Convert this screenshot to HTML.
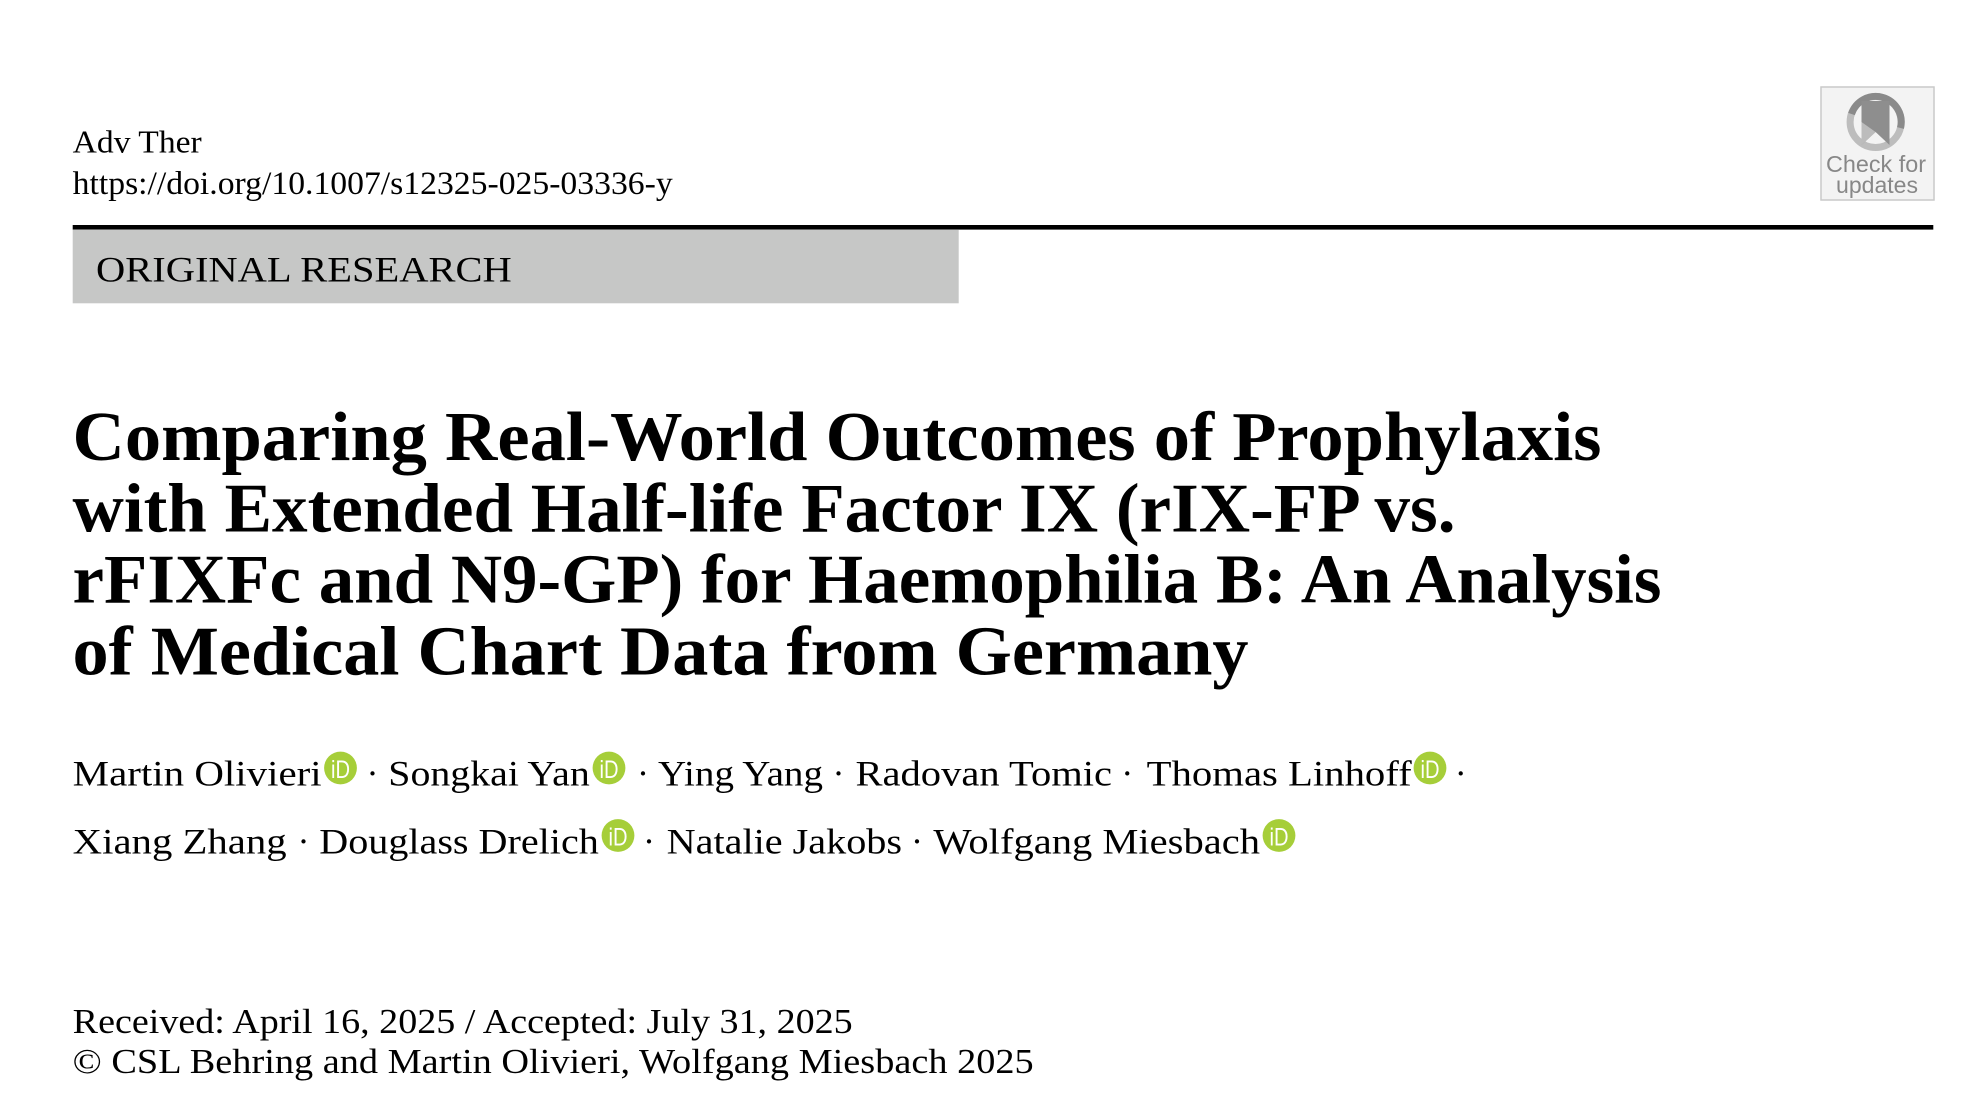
<!DOCTYPE html>
<html>
<head>
<meta charset="utf-8">
<style>
  html, body { margin:0; padding:0; background:#ffffff; }
  body { width:1972px; height:1106px; overflow:hidden; }
  svg { display:block; }
  .serif { font-family: "Liberation Serif", "Times New Roman", serif; fill:#000; }
  .sans { font-family: "Liberation Sans", Arial, sans-serif; }
</style>
</head>
<body>
<svg width="1972" height="1106" viewBox="0 0 1972 1106" xmlns="http://www.w3.org/2000/svg">
  <rect x="0" y="0" width="1972" height="1106" fill="#ffffff"/>

  <!-- Journal header -->
  <text class="serif" x="72.7" y="152.7" font-size="32" textLength="129" lengthAdjust="spacingAndGlyphs">Adv Ther</text>
  <text class="serif" x="72.7" y="194" font-size="33" textLength="600" lengthAdjust="spacingAndGlyphs">https://doi.org/10.1007/s12325-025-03336-y</text>

  <!-- Check for updates badge -->
  <rect x="1821" y="87" width="113" height="113" fill="#f3f3f3" stroke="#c9c9c9" stroke-width="1.5"/>
  <circle cx="1875.6" cy="122" r="25.5" fill="none" stroke="#bdbdbd" stroke-width="7"/>
  <path d="M 1851.5 114 A 25.5 25.5 0 0 1 1900.5 128" fill="none" stroke="#8a8a8a" stroke-width="7"/>
  <polygon points="1861.5,101 1889.5,101 1889.5,145 1875.6,132 1861.5,145" fill="#8e8e8e"/>
  <polygon points="1861.5,122 1875.6,132 1861.5,145" fill="#bcbcbc"/>
  <text class="sans" x="1876" y="172" font-size="23.5" fill="#878787" text-anchor="middle" textLength="100" lengthAdjust="spacingAndGlyphs">Check for</text>
  <text class="sans" x="1877" y="193" font-size="23.5" fill="#878787" text-anchor="middle" textLength="82" lengthAdjust="spacingAndGlyphs">updates</text>

  <!-- Rule and section label -->
  <rect x="72.7" y="225" width="1860.6" height="4.6" fill="#000"/>
  <rect x="72.7" y="229.6" width="886" height="73.7" fill="#c6c7c6"/>
  <text class="serif" x="96" y="281.5" font-size="36" textLength="415.7" lengthAdjust="spacingAndGlyphs">ORIGINAL RESEARCH</text>

  <!-- Title -->
  <text class="serif" x="72.5" y="460" font-size="70" font-weight="bold" textLength="1529" lengthAdjust="spacingAndGlyphs">Comparing Real-World Outcomes of Prophylaxis</text>
  <text class="serif" x="72.5" y="531.3" font-size="70" font-weight="bold" textLength="1383" lengthAdjust="spacingAndGlyphs">with Extended Half-life Factor IX (rIX-FP vs.</text>
  <text class="serif" x="72.5" y="602.7" font-size="70" font-weight="bold" textLength="1589" lengthAdjust="spacingAndGlyphs">rFIXFc and N9-GP) for Haemophilia B: An Analysis</text>
  <text class="serif" x="72.5" y="674.5" font-size="70" font-weight="bold" textLength="1176" lengthAdjust="spacingAndGlyphs">of Medical Chart Data from Germany</text>

  <!-- Authors line 1 -->
  <text class="serif" x="72.7" y="785.7" font-size="36" textLength="249" lengthAdjust="spacingAndGlyphs">Martin Olivieri</text>
  <g>
    <circle cx="340.5" cy="768" r="16.4" fill="#a6ce39"/>
    <text class="sans" x="340.5" y="778" font-size="25" fill="#ffffff" text-anchor="middle" textLength="19" lengthAdjust="spacingAndGlyphs">iD</text>
  </g>
  <text class="serif" x="372.5" y="785.7" font-size="36" text-anchor="middle">·</text>
  <text class="serif" x="388.3" y="785.7" font-size="36" textLength="201.5" lengthAdjust="spacingAndGlyphs">Songkai Yan</text>
  <g>
    <circle cx="609" cy="768" r="16.4" fill="#a6ce39"/>
    <text class="sans" x="609" y="778" font-size="25" fill="#ffffff" text-anchor="middle" textLength="19" lengthAdjust="spacingAndGlyphs">iD</text>
  </g>
  <text class="serif" x="643" y="785.7" font-size="36" text-anchor="middle">·</text>
  <text class="serif" x="658" y="785.7" font-size="36" textLength="165" lengthAdjust="spacingAndGlyphs">Ying Yang</text>
  <text class="serif" x="838.5" y="785.7" font-size="36" text-anchor="middle">·</text>
  <text class="serif" x="855.5" y="785.7" font-size="36" textLength="256.5" lengthAdjust="spacingAndGlyphs">Radovan Tomic</text>
  <text class="serif" x="1127.3" y="785.7" font-size="36" text-anchor="middle">·</text>
  <text class="serif" x="1146.7" y="785.7" font-size="36" textLength="265" lengthAdjust="spacingAndGlyphs">Thomas Linhoff</text>
  <g>
    <circle cx="1430" cy="768" r="16.4" fill="#a6ce39"/>
    <text class="sans" x="1430" y="778" font-size="25" fill="#ffffff" text-anchor="middle" textLength="19" lengthAdjust="spacingAndGlyphs">iD</text>
  </g>
  <text class="serif" x="1460.7" y="785.7" font-size="36" text-anchor="middle">·</text>

  <!-- Authors line 2 -->
  <text class="serif" x="72.7" y="853.5" font-size="36" textLength="214" lengthAdjust="spacingAndGlyphs">Xiang Zhang</text>
  <text class="serif" x="303.5" y="853.5" font-size="36" text-anchor="middle">·</text>
  <text class="serif" x="319.3" y="853.5" font-size="36" textLength="279.5" lengthAdjust="spacingAndGlyphs">Douglass Drelich</text>
  <g>
    <circle cx="618" cy="835.5" r="16.4" fill="#a6ce39"/>
    <text class="sans" x="618" y="845.5" font-size="25" fill="#ffffff" text-anchor="middle" textLength="19" lengthAdjust="spacingAndGlyphs">iD</text>
  </g>
  <text class="serif" x="649" y="853.5" font-size="36" text-anchor="middle">·</text>
  <text class="serif" x="666.7" y="853.5" font-size="36" textLength="235.3" lengthAdjust="spacingAndGlyphs">Natalie Jakobs</text>
  <text class="serif" x="917" y="853.5" font-size="36" text-anchor="middle">·</text>
  <text class="serif" x="933.4" y="853.5" font-size="36" textLength="326.6" lengthAdjust="spacingAndGlyphs">Wolfgang Miesbach</text>
  <g>
    <circle cx="1279" cy="835.5" r="16.4" fill="#a6ce39"/>
    <text class="sans" x="1279" y="845.5" font-size="25" fill="#ffffff" text-anchor="middle" textLength="19" lengthAdjust="spacingAndGlyphs">iD</text>
  </g>

  <!-- Footer -->
  <text class="serif" x="72.7" y="1033" font-size="35" textLength="780" lengthAdjust="spacingAndGlyphs">Received: April 16, 2025 / Accepted: July 31, 2025</text>
  <text class="serif" x="72.7" y="1073" font-size="35" textLength="961" lengthAdjust="spacingAndGlyphs">© CSL Behring and Martin Olivieri, Wolfgang Miesbach 2025</text>
</svg>
</body>
</html>
